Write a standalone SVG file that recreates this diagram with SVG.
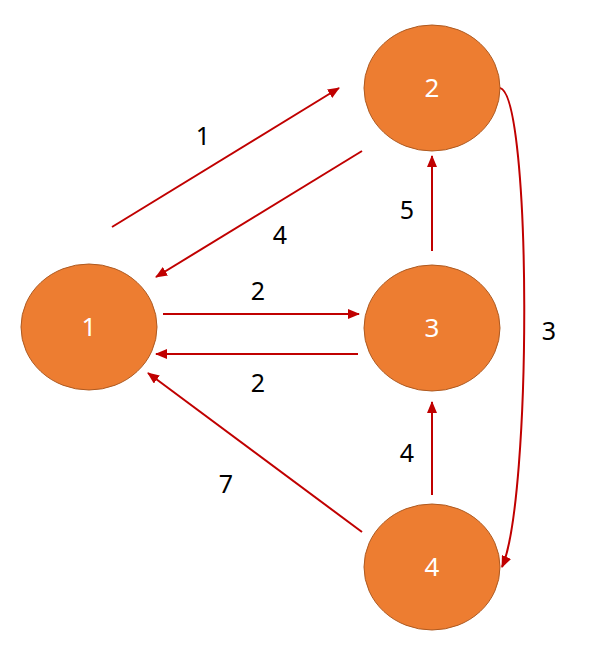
<svg xmlns="http://www.w3.org/2000/svg" width="599" height="659" viewBox="0 0 599 659">
<style>
.node ellipse{fill:#ED7D31;stroke:#AE5A21;stroke-width:1}
.node text{fill:#fff;font-family:"Noto Sans","Open Sans",sans-serif;font-size:26px;text-anchor:middle}
.edge{stroke:#C00000;stroke-width:2;fill:none;marker-end:url(#ah)}
.lbl{fill:#000;font-family:"Noto Sans","Open Sans",sans-serif;font-size:25px;text-anchor:middle}
</style>
<defs>
<marker id="ah" markerUnits="userSpaceOnUse" markerWidth="12" markerHeight="10" viewBox="0 0 12 10" refX="11" refY="5" orient="auto">
<path d="M0,0 L12,5 L0,10 Z" fill="#C00000"/>
</marker>
</defs>
<rect width="599" height="659" fill="#fff"/>
<g id="connectors">
<line class="edge" x1="112" y1="227" x2="339" y2="88"/>
<line class="edge" x1="362" y1="151" x2="156" y2="277"/>
<line class="edge" x1="163" y1="314" x2="359" y2="314"/>
<line class="edge" x1="358" y1="354" x2="156" y2="354"/>
<line class="edge" x1="432" y1="251" x2="432" y2="156"/>
<line class="edge" x1="432" y1="495" x2="432" y2="402"/>
<line class="edge" x1="362" y1="532" x2="148" y2="373"/>
<path class="edge" d="M500,88 C532,95 532,500 502,567"/>
<text class="lbl" x="203" y="145">1</text>
<text class="lbl" x="280" y="244">4</text>
<text class="lbl" x="258" y="300">2</text>
<text class="lbl" x="258" y="392">2</text>
<text class="lbl" x="407" y="219">5</text>
<text class="lbl" x="549" y="340">3</text>
<text class="lbl" x="407" y="462">4</text>
<text class="lbl" x="226" y="493">7</text>
</g>
<g id="node1" class="node"><ellipse cx="89" cy="327" rx="68" ry="63"/><text x="89" y="336">1</text></g>
<g id="node2" class="node"><ellipse cx="432" cy="88" rx="68" ry="63"/><text x="432" y="97">2</text></g>
<g id="node3" class="node"><ellipse cx="432" cy="328" rx="68" ry="63"/><text x="432" y="337">3</text></g>
<g id="node4" class="node"><ellipse cx="432" cy="567" rx="68" ry="63"/><text x="432" y="576">4</text></g>
</svg>
